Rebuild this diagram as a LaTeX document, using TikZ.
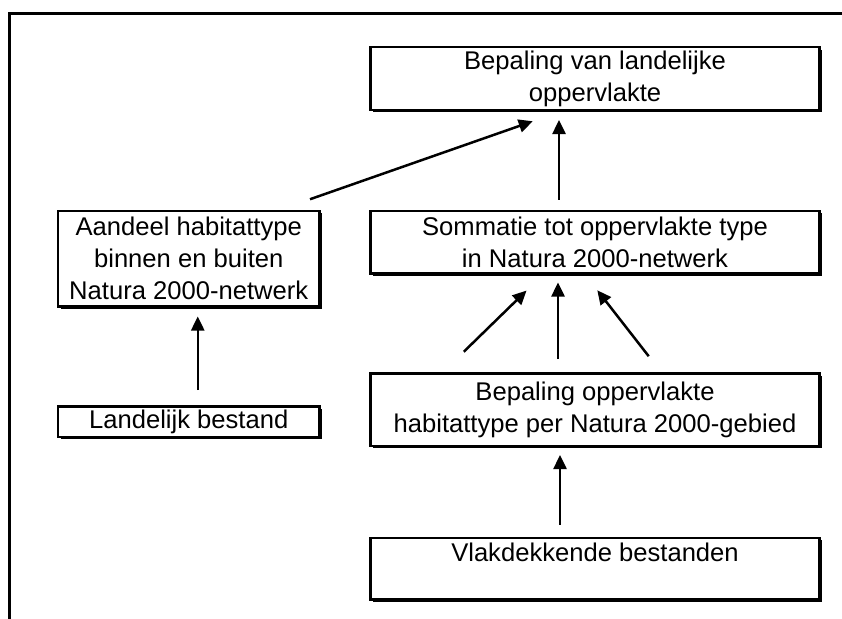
\documentclass[tikz,border=0pt]{standalone}
\usepackage{fontspec}
\setmainfont{Liberation Sans}
\usetikzlibrary{arrows.meta, positioning, shadows}

\begin{document}
\begin{tikzpicture}[
    x=1pt, y=-1pt,
    box/.style={rectangle, draw=black, line width=2.5pt, fill=white,
                minimum width=449pt, minimum height=62.5pt, inner sep=2pt,
                align=center, font=\fontsize{25.6}{32}\selectfont,
                drop shadow={opacity=1, fill=black,
                             shadow xshift=2.5pt, shadow yshift=-2.5pt}},
    sidebox/.style={box, minimum width=261.5pt},
    arrow/.style={-{Triangle[length=14pt, width=13pt]}, line width=2.5pt},
    frame/.style={line width=3pt}
]

\useasboundingbox (0,0) rectangle (842,618);

%% KADER
\draw[frame] (9,619) -- (9,14) -- (843,14);

%% RECHTERKOLOM
\node[box] (landopp) at (595,78.5) {%
    Bepaling van landelijke\\
    oppervlakte%
};

\node[box, below=98.5pt of landopp] (sommatie) {%
    Sommatie tot oppervlakte type\\
    in Natura 2000-netwerk%
};

\node[box, minimum height=72.5pt, below=97.5pt of sommatie] (gebiedopp) {%
    Bepaling oppervlakte\\
    habitattype per Natura 2000-gebied%
};

\node[box, minimum height=61.5pt, below=89.5pt of gebiedopp] (vlak) {%
    Vlakdekkende bestanden\\
    ~%
};

%% LINKERKOLOM
\node[sidebox, minimum height=95.5pt,
      left=48.5pt of sommatie.north west, anchor=north east] (aandeel) {%
    Aandeel habitattype\\
    binnen en buiten\\
    Natura 2000-netwerk%
};

\node[sidebox, minimum height=30.5pt, inner ysep=0pt,
      below=97.5pt of aandeel] (landbestand) {Landelijk bestand};

%% PIJLEN
\draw[arrow, shorten <=12pt, shorten >=8pt]
    ([xshift=-35pt]vlak.north) -- ([xshift=-35pt]gebiedopp.south);
\draw[arrow, shorten <=29pt, shorten >=23pt]
    ([xshift=-152pt]gebiedopp.north) -- ([xshift=-52pt]sommatie.south);
\draw[arrow, shorten <=13pt, shorten >=8pt]
    ([xshift=-37pt]gebiedopp.north) -- ([xshift=-37pt]sommatie.south);
\draw[arrow, shorten <=20pt, shorten >=20pt]
    ([xshift=66pt]gebiedopp.north) -- ([xshift=-10pt]sommatie.south);
\draw[arrow, shorten <=10pt, shorten >=9pt]
    ([xshift=-36pt]sommatie.north) -- ([xshift=-36pt]landopp.south);
\draw[arrow, shorten <=31pt, shorten >=31pt]
    ([xshift=92pt]aandeel.north) -- ([xshift=-33pt]landopp.south);
\draw[arrow, shorten <=15pt, shorten >=9pt]
    ([xshift=9pt]landbestand.north) -- ([xshift=9pt]aandeel.south);

\end{tikzpicture}
\end{document}
